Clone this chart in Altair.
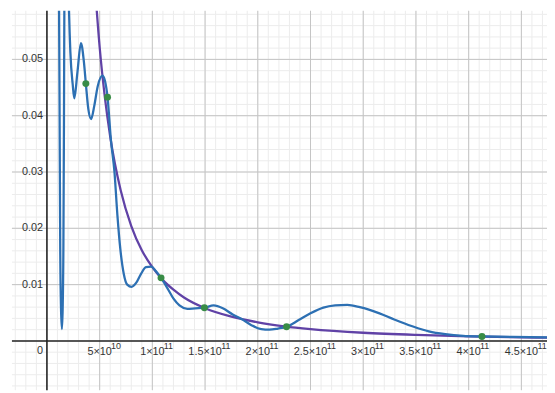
import altair as alt
import pandas as pd

# ---- data (x in units of 1e10) ----
blue_x = [1.121, 1.196, 1.262, 1.336, 1.421, 1.495, 1.561, 1.617, 1.654, 1.757, 1.869, 1.981,
          2.075, 2.224, 2.449, 2.598, 2.897, 3.224, 3.505, 3.692, 3.925, 4.187, 4.486, 4.813,
          5.280, 5.514, 5.748, 6.075, 6.402, 6.682, 6.963, 7.290, 7.617, 8.037, 8.458, 8.925,
          9.393, 9.888, 10.327, 10.822, 11.449, 12.009, 12.570, 13.318, 14.065, 14.935, 15.813,
          16.682, 17.617, 18.458, 19.393, 20.327, 21.103, 21.916, 22.729, 23.879, 25.000, 26.215,
          27.336, 28.486, 29.673, 31.542, 32.944, 34.654, 36.215, 37.776, 39.486, 41.262, 44.159,
          47.43]
blue_y = [0.0706, 0.0426, 0.0163, 0.0058, 0.0021, 0.0058, 0.0163, 0.0391, 0.0601, 0.0688, 0.0723,
          0.0688, 0.0601, 0.0513, 0.0455, 0.0431, 0.0478, 0.0529, 0.0496, 0.0457, 0.0412, 0.0394,
          0.0417, 0.0452, 0.0471, 0.0461, 0.0433, 0.0356, 0.0301, 0.0224, 0.0163, 0.0119, 0.0100,
          0.0096, 0.0103, 0.0119, 0.0131, 0.0132, 0.0124, 0.0112, 0.0093, 0.0075, 0.0063, 0.0057,
          0.0058, 0.0059, 0.0063, 0.0058, 0.0047, 0.0039, 0.0028, 0.0021, 0.0020, 0.0022, 0.0025,
          0.0037, 0.0049, 0.0059, 0.0063, 0.0064, 0.0060, 0.0049, 0.0038, 0.0026, 0.0017, 0.0012,
          0.0009, 0.0008, 0.0007, 0.00065]

purple_x = [4.5, 5.0, 5.5, 6.0, 7.0, 8.0, 9.0, 10, 11, 12, 13, 15, 17.5, 20, 22.5, 25, 30, 35, 40, 45, 47.5]
purple_y = [0.0645, 0.0522, 0.0432, 0.0363, 0.0267, 0.0204, 0.0161, 0.0131, 0.0108, 0.0091, 0.0077,
            0.0058, 0.0043, 0.0033, 0.0026, 0.0021, 0.00145, 0.00107, 0.00082, 0.00064, 0.00058]

green_x = [3.692, 5.748, 10.822, 14.935, 22.729, 41.262]
green_y = [0.0457, 0.0433, 0.0112, 0.0059, 0.0025, 0.0008]

# tick labels
xtick_vals = [5, 10, 15, 20, 25, 30, 35, 40, 45]
xtick_base = ["5×10", "1×10", "1.5×10", "2×10", "2.5×10", "3×10", "3.5×10", "4×10", "4.5×10"]
xtick_exp = ["10", "11", "11", "11", "11", "11", "11", "11", "11"]
ytick_vals = [0.01, 0.02, 0.03, 0.04, 0.05]
ytick_text = ["0.01", "0.02", "0.03", "0.04", "0.05"]

# grid positions
minor_x = list(range(-3, 48))
major_x = [v for v in minor_x if v % 5 == 0 and v != 0]
minor_y = [round(-0.008 + 0.002 * i, 3) for i in range(34)]
major_y = [v for v in minor_y if abs(round(v / 0.01) * 0.01 - v) < 1e-9 and v != 0]

XDOM = [-3.318, 47.43]
YDOM = [-0.00875, 0.05863]
xs = alt.Scale(domain=XDOM, nice=False, zero=False)
ys = alt.Scale(domain=YDOM, nice=False, zero=False)
FONT = "Liberation Sans Narrow, Liberation Sans, Arial"
LBL = "#333333"

def X(f="x"):
    return alt.X(f"{f}:Q", scale=xs, axis=None)

def Y(f="y"):
    return alt.Y(f"{f}:Q", scale=ys, axis=None)

gminx = alt.Chart(pd.DataFrame({"x": minor_x})).mark_rule(color="#ececec", strokeWidth=1).encode(x=X())
gminy = alt.Chart(pd.DataFrame({"y": minor_y})).mark_rule(color="#ececec", strokeWidth=1).encode(y=Y())
gmajx = alt.Chart(pd.DataFrame({"x": major_x})).mark_rule(color="#c4c4c4", strokeWidth=1).encode(x=X())
gmajy = alt.Chart(pd.DataFrame({"y": major_y})).mark_rule(color="#c4c4c4", strokeWidth=1).encode(y=Y())
axx = alt.Chart(pd.DataFrame({"y": [0.0]})).mark_rule(color="#222222", strokeWidth=1.6).encode(y=Y())
axy = alt.Chart(pd.DataFrame({"x": [0.0]})).mark_rule(color="#222222", strokeWidth=1.6).encode(x=X())

ydf = pd.DataFrame({"x": [0.0] * len(ytick_vals), "y": ytick_vals, "t": ytick_text})
xdf = pd.DataFrame({"x": xtick_vals, "y": [0.0] * len(xtick_vals), "t": xtick_base, "e": xtick_exp,
                    "w": [len(b) for b in xtick_base]})
xdf_short = xdf[xdf["w"] == 4]
xdf_long = xdf[xdf["w"] == 6]

ylabels = alt.Chart(ydf).mark_text(align="right", baseline="middle", dx=-4, font=FONT, fontSize=11,
                                   color=LBL).encode(x=X(), y=Y(), text="t:N")
xbase = alt.Chart(xdf).mark_text(align="center", baseline="alphabetic", dy=14, font=FONT, fontSize=11,
                                 color=LBL).encode(x=X(), y=Y(), text="t:N")

def xexp(df, dx):
    return alt.Chart(df).mark_text(align="left", baseline="alphabetic", dx=dx, dy=8.7, font=FONT, fontSize=9,
                                   color=LBL).encode(x=X(), y=Y(), text="e:N")

zero = alt.Chart(pd.DataFrame({"x": [0.0], "y": [0.0], "t": ["0"]})).mark_text(
    align="right", baseline="alphabetic", dx=-4, dy=13, font=FONT, fontSize=11, color=LBL
).encode(x=X(), y=Y(), text="t:N")

purple = alt.Chart(pd.DataFrame({"x": purple_x, "y": purple_y})).mark_line(
    color="#6042a6", strokeWidth=2.3, interpolate="monotone", clip=True).encode(x=X(), y=Y())
blue = alt.Chart(pd.DataFrame({"x": blue_x, "y": blue_y})).mark_line(
    color="#2d70b3", strokeWidth=2.3, interpolate="monotone", clip=True).encode(x=X(), y=Y())
green = alt.Chart(pd.DataFrame({"x": green_x, "y": green_y})).mark_point(
    filled=True, color="#388c46", size=50, opacity=1, shape="circle").encode(x=X(), y=Y())

chart = alt.layer(
    gminx, gminy, gmajx, gmajy, axx, axy,
    ylabels, xbase, xexp(xdf_short, 11.6), xexp(xdf_long, 16.4), zero,
    purple, blue, green
).properties(
    width=543, height=385,
    autosize=alt.AutoSizeParams(type="none"),
    padding={"left": 4, "top": 0, "right": 0, "bottom": 0},
    background="white",
).configure_view(stroke=None)

chart.save("out.html", embed_options={"renderer": "svg", "actions": False})
